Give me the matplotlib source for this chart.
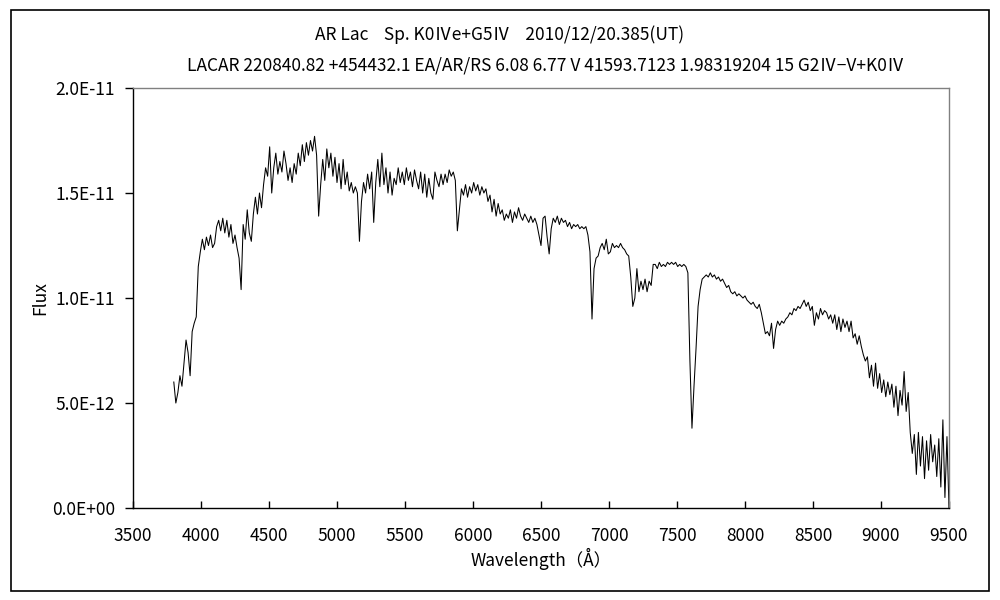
import numpy as np
import matplotlib
matplotlib.use("Agg")
import matplotlib.pyplot as plt
from matplotlib.patches import Rectangle

# ---------------- data ----------------
WAVE_START = 3800.0   # Angstrom
WAVE_STEP = 15.0      # Angstrom
FLUX_UNIT = 1e-12

flux_e12 = [
    # 3800 - 3935
    6.0, 5.0, 5.5, 6.3, 5.8, 6.9, 8.0, 7.4, 6.3, 8.4,
    # 3950 - 4085
    8.8, 9.1, 11.5, 12.2, 12.8, 12.3, 12.9, 12.5, 13.0, 12.4,
    # 4100 - 4235
    12.6, 13.4, 13.7, 13.2, 13.8, 13.1, 13.7, 12.9, 13.5, 12.6,
    # 4250 - 4385
    13.0, 12.4, 11.9, 10.4, 13.5, 12.8, 14.2, 13.1, 12.7, 14.0,
    # 4400 - 4535
    14.8, 14.0, 15.0, 14.3, 15.4, 16.2, 15.8, 17.2, 15.0, 16.2,
    # 4550 - 4685
    16.9, 15.9, 16.5, 16.0, 17.0, 16.4, 15.6, 16.2, 15.5, 16.4,
    # 4700 - 4835
    15.9, 16.9, 16.3, 17.3, 16.5, 17.4, 16.8, 17.5, 17.0, 17.7,
    # 4850 - 4985
    16.8, 13.9, 15.4, 16.6, 15.6, 17.1, 16.2, 16.9, 15.8, 16.7,
    # 5000 - 5135
    15.5, 16.4, 15.2, 16.6, 15.4, 16.0, 15.1, 15.5, 15.0, 15.3,
    # 5150 - 5285
    15.0, 12.7, 14.6, 15.5, 15.0, 15.9, 15.2, 16.0, 13.6, 15.5,
    # 5300 - 5435
    16.6, 15.3, 16.9, 15.4, 16.2, 15.0, 16.0, 14.9, 15.7, 15.4,
    # 5450 - 5585
    16.2, 15.5, 16.0, 15.4, 16.2, 15.6, 16.0, 15.3, 16.1, 15.6,
    # 5600 - 5735
    15.2, 16.0, 15.0, 15.9, 14.8, 15.7, 15.0, 14.7, 16.0, 15.6,
    # 5750 - 5885
    15.3, 15.9, 15.4, 15.9, 15.5, 16.1, 15.8, 16.0, 15.6, 13.2,
    # 5900 - 6035
    14.2, 15.2, 14.9, 15.4, 14.8, 15.3, 15.0, 15.5, 15.1, 15.4,
    # 6050 - 6185
    14.9, 15.3, 15.0, 15.2, 14.6, 14.9, 14.1, 14.7, 13.9, 14.5,
    # 6200 - 6335
    14.0, 14.2, 13.7, 14.0, 13.8, 14.2, 13.6, 14.1, 13.8, 14.3,
    # 6350 - 6485
    13.9, 13.7, 14.0, 13.8, 13.6, 13.9, 13.6, 13.8, 13.5, 13.0,
    # 6500 - 6635
    12.5, 13.8, 13.9, 12.9, 12.1, 13.3, 13.8, 13.6, 13.9, 13.5,
    # 6650 - 6785
    13.8, 13.6, 13.7, 13.4, 13.6, 13.3, 13.5, 13.4, 13.5, 13.3,
    # 6800 - 6935
    13.4, 13.3, 13.4, 13.0, 12.2, 9.0, 11.4, 11.9, 12.0, 12.4,
    # 6950 - 7085
    12.6, 12.3, 12.8, 12.1, 12.2, 12.6, 12.4, 12.5, 12.4, 12.6,
    # 7100 - 7235
    12.4, 12.3, 12.1, 12.0, 11.0, 9.6, 10.0, 11.4, 10.3, 10.8,
    # 7250 - 7385
    10.4, 10.9, 10.3, 10.8, 10.6, 11.6, 11.6, 11.4, 11.7, 11.5,
    # 7400 - 7535
    11.6, 11.5, 11.7, 11.6, 11.7, 11.6, 11.7, 11.5, 11.6, 11.5,
    # 7550 - 7685
    11.6, 11.5, 11.2, 7.0, 3.8, 5.8, 7.6, 9.6, 10.4, 10.9,
    # 7700 - 7835
    11.0, 11.1, 11.0, 11.2, 11.0, 11.1, 10.9, 11.0, 10.8, 10.9,
    # 7850 - 7985
    10.7, 10.5, 10.6, 10.3, 10.2, 10.3, 10.1, 10.2, 10.1, 10.0,
    # 8000 - 8135
    10.1, 9.9, 9.8, 9.7, 9.8, 9.6, 9.5, 9.7, 9.3, 8.8,
    # 8150 - 8285
    8.3, 8.4, 8.2, 8.8, 7.6, 8.5, 8.9, 8.7, 8.9, 8.8,
    # 8300 - 8435
    9.0, 9.1, 9.3, 9.2, 9.5, 9.4, 9.6, 9.5, 9.7, 9.9,
    # 8450 - 8585
    9.6, 9.8, 9.4, 9.6, 8.7, 9.3, 9.0, 9.5, 9.2, 9.4,
    # 8600 - 8735
    9.3, 9.0, 9.2, 8.8, 9.2, 8.5, 9.1, 8.4, 9.0, 8.6,
    # 8750 - 8885
    8.9, 8.4, 8.9, 8.1, 8.3, 7.8, 8.2, 7.7, 7.3, 7.0,
    # 8900 - 9035
    7.2, 6.2, 6.8, 5.8, 6.9, 5.7, 6.4, 5.5, 6.1, 5.3,
    # 9050 - 9185
    6.0, 5.4, 5.9, 4.8, 5.8, 4.4, 5.6, 4.9, 6.5, 4.6,
    # 9200 - 9335
    5.5, 3.6, 2.6, 3.5, 1.6, 3.6, 2.0, 3.4, 1.4, 3.2,
    # 9350 - 9485
    1.8, 3.5, 2.2, 3.0, 1.5, 3.3, 1.0, 4.2, 0.5, 3.4,
    # 9500
    0.0,
]

wavelength = WAVE_START + WAVE_STEP * np.arange(len(flux_e12))
flux = np.array(flux_e12) * FLUX_UNIT

x_ticks = [3500, 4000, 4500, 5000, 5500, 6000, 6500, 7000, 7500, 8000, 8500, 9000, 9500]
y_ticks = [0.0, 5.0e-12, 1.0e-11, 1.5e-11, 2.0e-11]
y_tick_labels = ["0.0E+00", "5.0E-12", "1.0E-11", "1.5E-11", "2.0E-11"]

title1 = "AR Lac    Sp. K0Ⅳe+G5Ⅳ    2010/12/20.385(UT)"
title2 = "LACAR 220840.82 +454432.1 EA/AR/RS 6.08 6.77 V 41593.7123 1.98319204 15 G2Ⅳ−V+K0Ⅳ"
xlabel = "Wavelength（Å）"
ylabel = "Flux"

# ---------------- plot ----------------
FONT = ["Noto Sans CJK JP", "DejaVu Sans"]
plt.rcParams["font.family"] = FONT
FS = 12.5

fig = plt.figure(figsize=(10, 6), dpi=100)
fig.patch.set_facecolor("white")

# outer frame of the figure
fig.patches.append(Rectangle((0.011, 0.015), 0.978, 0.968, transform=fig.transFigure,
                             fill=False, edgecolor="black", linewidth=1.2))

ax = fig.add_axes([0.133, 0.1533, 0.816, 0.70])
ax.plot(wavelength, flux, color="black", linewidth=0.75)

ax.set_xlim(3500, 9500)
ax.set_ylim(0, 2.0e-11)
ax.set_xticks(x_ticks)
ax.set_xticklabels([str(t) for t in x_ticks])
ax.set_yticks(y_ticks)
ax.set_yticklabels(y_tick_labels)

ax.tick_params(axis="x", direction="in", length=5, width=1, labelsize=FS, pad=14, colors="black")
ax.tick_params(axis="y", direction="out", length=6, width=1, labelsize=FS, pad=7, colors="black")

for s in ("left", "bottom"):
    ax.spines[s].set_color("black")
    ax.spines[s].set_linewidth(1.0)
for s in ("top", "right"):
    ax.spines[s].set_color("#808080")
    ax.spines[s].set_linewidth(1.0)

ax.set_xlabel(xlabel, fontsize=FS, labelpad=2)
ax.set_ylabel(ylabel, fontsize=FS, labelpad=2)

fig.text(0.500, 1 - 35 / 600, title1, ha="center", va="center", fontsize=FS)
fig.text(0.546, 1 - 65 / 600, title2, ha="center", va="center", fontsize=FS)

fig.savefig("out.png", dpi=100, facecolor="white")
